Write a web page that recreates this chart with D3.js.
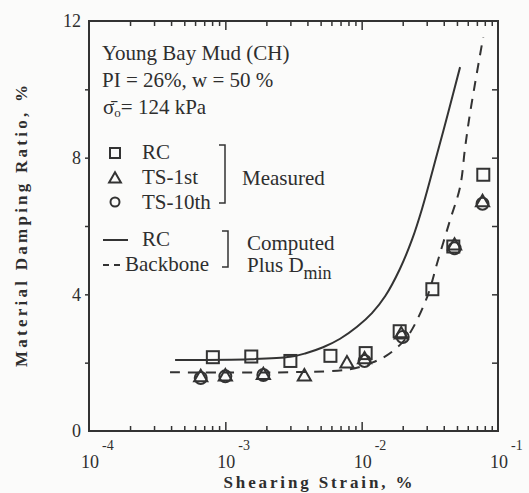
<!DOCTYPE html>
<html>
<head>
<meta charset="utf-8">
<script src="https://cdn.jsdelivr.net/npm/d3@7"></script>
<style>
	body { margin: 0; background: #fbfbfa; }
	svg { display: block; }
	text { font-family: "Liberation Serif", "Times New Roman", serif; fill: #2e2e2e; }
</style>
</head>
<body>
<svg id="chart" width="529" height="493"></svg>
<script>
// measured: RC
const rcStrain = [8.1e-4, 1.55e-3, 3.0e-3, 5.9e-3, 1.07e-2, 1.9e-2, 3.3e-2, 4.7e-2, 7.8e-2];
const rcDamping = [2.16, 2.18, 2.05, 2.2, 2.28, 2.92, 4.15, 5.4, 7.5];

// measured: TS-1st
const ts1Strain = [6.6e-4, 1.0e-3, 1.9e-3, 3.8e-3, 7.8e-3, 1.05e-2, 1.95e-2, 4.8e-2, 7.7e-2];
const ts1Damping = [1.6, 1.62, 1.66, 1.62, 2.0, 2.12, 2.85, 5.45, 6.72];

// measured: TS-10th
const ts10Strain = [6.6e-4, 1.0e-3, 1.9e-3, 1.05e-2, 2.0e-2, 4.8e-2, 7.7e-2];
const ts10Damping = [1.55, 1.6, 1.64, 2.05, 2.75, 5.35, 6.65];

// computed: RC (solid)
const compRcStrain = [4.28e-4, 1.52e-3, 2.99e-3, 3.85e-3, 5.21e-3, 6.95e-3, 9.25e-3, 1.19e-2, 1.49e-2, 1.91e-2, 2.34e-2, 2.77e-2, 3.57e-2, 4.3e-2, 5.27e-2];
const compRcDamping = [2.08, 2.1, 2.17, 2.27, 2.45, 2.7, 3.05, 3.45, 3.95, 4.75, 5.6, 6.5, 8.1, 9.3, 10.65];

// computed: backbone (dashed)
const backboneStrain = [3.93e-4, 2.99e-3, 8.22e-3, 1.19e-2, 1.51e-2, 1.91e-2, 2.26e-2, 3.02e-2, 3.63e-2, 4.45e-2, 5.27e-2, 5.74e-2, 6.24e-2, 7.79e-2];
const backboneDamping = [1.72, 1.72, 1.81, 2.0, 2.2, 2.52, 2.87, 3.92, 5.0, 6.17, 7.14, 8.3, 9.31, 11.53];

const decadeTicks = [1e-4, 1e-3, 1e-2, 1e-1];
const decadeExponents = ["-4", "-3", "-2", "-1"];
const yLabelTicks = [0, 4, 8, 12];

const margin = {top: 21, right: 31, bottom: 62, left: 89};
const svg = d3.select("#chart"),
	width = +svg.attr("width") - margin.left - margin.right,
	height = +svg.attr("height") - margin.top - margin.bottom;
const ink = "#333";

const x = d3.scaleLog().domain([1e-4, 1e-1]).range([0, width]);
const y = d3.scaleLinear().domain([0, 12]).range([height, 0]);

const g = svg.append("g").attr("transform", `translate(${margin.left},${margin.top})`);

// minor + major ticks on the log axis
const minorTicks = [];
decadeTicks.slice(0, 3).forEach((d) => {
	for (let k = 2; k <= 9; k++) minorTicks.push(d * k);
});

function styleAxis(sel) {
	sel.select(".domain").remove();
	sel.selectAll("line").attr("stroke", ink).attr("stroke-width", 1.5);
}

[{axis: d3.axisBottom, ty: height}, {axis: d3.axisTop, ty: 0}].forEach((a) => {
	g.append("g").attr("transform", `translate(0,${a.ty})`)
		.call(a.axis(x).tickValues(minorTicks).tickSize(-5).tickFormat(""))
		.call(styleAxis);
	g.append("g").attr("transform", `translate(0,${a.ty})`)
		.call(a.axis(x).tickValues(decadeTicks.slice(1, 3)).tickSize(-9).tickFormat(""))
		.call(styleAxis);
});

// y ticks (inside, both sides)
g.append("g")
	.call(d3.axisLeft(y).tickValues([2, 4, 6, 8, 10]).tickSize(4).tickFormat(""))
	.call(styleAxis);
g.append("g").attr("transform", `translate(${width},0)`)
	.call(d3.axisRight(y).tickValues([2, 4, 6, 8, 10]).tickSize(-6).tickFormat(""))
	.call(styleAxis);

// frame
g.append("rect")
	.attr("width", width).attr("height", height)
	.attr("fill", "none").attr("stroke", ink).attr("stroke-width", 2);

// y tick labels
g.selectAll(".ylab").data(yLabelTicks).enter().append("text")
	.attr("x", -8).attr("y", (d) => y(d)).attr("dy", ".35em")
	.attr("text-anchor", "end").attr("font-size", "18px")
	.text((d) => d);

// x decade labels: 10 with superscript exponent
const xl = g.selectAll(".xlab").data(decadeTicks).enter().append("text")
	.attr("x", (d) => x(d) - 8).attr("y", height + 37)
	.attr("font-size", "18px");
xl.append("tspan").text("10");
xl.append("tspan").attr("dx", 3).attr("dy", -18).attr("font-size", "14px")
	.text((d, i) => decadeExponents[i]);

// axis titles
svg.append("text")
	.attr("x", 318).attr("y", 488)
	.attr("text-anchor", "middle").attr("font-weight", "bold").attr("font-size", "17px")
	.attr("textLength", 189).attr("lengthAdjust", "spacing")
	.text("Shearing Strain, %");
svg.append("text")
	.attr("transform", "translate(27,226) rotate(-90)")
	.attr("text-anchor", "middle").attr("font-weight", "bold").attr("font-size", "17px")
	.attr("textLength", 282).attr("lengthAdjust", "spacing")
	.text("Material Damping Ratio, %");

// computed curves
const line = d3.line().x((d) => x(d[0])).y((d) => y(d[1])).curve(d3.curveCatmullRom);
g.append("path")
	.attr("d", line(d3.zip(compRcStrain, compRcDamping)))
	.attr("fill", "none").attr("stroke", ink).attr("stroke-width", 2);
g.append("path")
	.attr("d", line(d3.zip(backboneStrain, backboneDamping)))
	.attr("fill", "none").attr("stroke", ink).attr("stroke-width", 2)
	.style("stroke-dasharray", "10, 8");

// markers
const sq = 12;
g.append("g").selectAll("rect").data(d3.zip(rcStrain, rcDamping)).enter().append("rect")
	.attr("x", (d) => x(d[0]) - sq / 2).attr("y", (d) => y(d[1]) - sq / 2)
	.attr("width", sq).attr("height", sq)
	.attr("fill", "none").attr("stroke", ink).attr("stroke-width", 2);

const tri = d3.symbol().type(d3.symbolTriangle).size(75);
g.append("g").selectAll("path").data(d3.zip(ts1Strain, ts1Damping)).enter().append("path")
	.attr("d", tri)
	.attr("transform", (d) => `translate(${x(d[0])},${y(d[1]) + 1})`)
	.attr("fill", "none").attr("stroke", ink).attr("stroke-width", 2);

g.append("g").selectAll("circle").data(d3.zip(ts10Strain, ts10Damping)).enter().append("circle")
	.attr("cx", (d) => x(d[0])).attr("cy", (d) => y(d[1]))
	.attr("r", 6)
	.attr("fill", "none").attr("stroke", ink).attr("stroke-width", 2);

// header text
const header = ["Young Bay Mud (CH)", "PI = 26%, w = 50 %"];
header.forEach((t, i) => {
	svg.append("text").attr("x", 102).attr("y", 60 + i * 27).attr("font-size", "21px").text(t);
});
const sig = svg.append("text").attr("x", 103).attr("y", 114).attr("font-size", "21px");
sig.append("tspan").text("\u03C3\u0304");
sig.append("tspan").attr("font-size", "13px").attr("dy", 3).text("o");
sig.append("tspan").attr("dy", -3).text("= 124 kPa");

// legend
const leg = svg.append("g");
leg.append("rect").attr("x", 110).attr("y", 148).attr("width", 10).attr("height", 10)
	.attr("fill", "none").attr("stroke", ink).attr("stroke-width", 2);
leg.append("path").attr("d", d3.symbol().type(d3.symbolTriangle).size(60))
	.attr("transform", "translate(115,179)")
	.attr("fill", "none").attr("stroke", ink).attr("stroke-width", 2);
leg.append("circle").attr("cx", 115).attr("cy", 202).attr("r", 4.5)
	.attr("fill", "none").attr("stroke", ink).attr("stroke-width", 2);
const legLabels = ["RC", "TS-1st", "TS-10th"];
legLabels.forEach((t, i) => {
	leg.append("text").attr("x", 142).attr("y", 159 + i * 25).attr("font-size", "21px").text(t);
});
leg.append("path").attr("d", "M219,145H225V203H219")
	.attr("fill", "none").attr("stroke", ink).attr("stroke-width", 1.5);
leg.append("text").attr("x", 242).attr("y", 185).attr("font-size", "21px").text("Measured");

leg.append("line").attr("x1", 103).attr("x2", 128).attr("y1", 240).attr("y2", 240)
	.attr("stroke", ink).attr("stroke-width", 2);
leg.append("line").attr("x1", 103).attr("x2", 122).attr("y1", 265).attr("y2", 265)
	.attr("stroke", ink).attr("stroke-width", 2).style("stroke-dasharray", "6, 5");
leg.append("text").attr("x", 142).attr("y", 246).attr("font-size", "21px").text("RC");
leg.append("text").attr("x", 125).attr("y", 271).attr("font-size", "21px").text("Backbone");
leg.append("path").attr("d", "M222,231H228V267H222")
	.attr("fill", "none").attr("stroke", ink).attr("stroke-width", 1.5);
leg.append("text").attr("x", 247).attr("y", 250).attr("font-size", "21px").text("Computed");
const plus = leg.append("text").attr("x", 247).attr("y", 272).attr("font-size", "21px");
plus.append("tspan").text("Plus D");
plus.append("tspan").attr("dy", 7).attr("font-size", "18px").text("min");
</script>
</body>
</html>
